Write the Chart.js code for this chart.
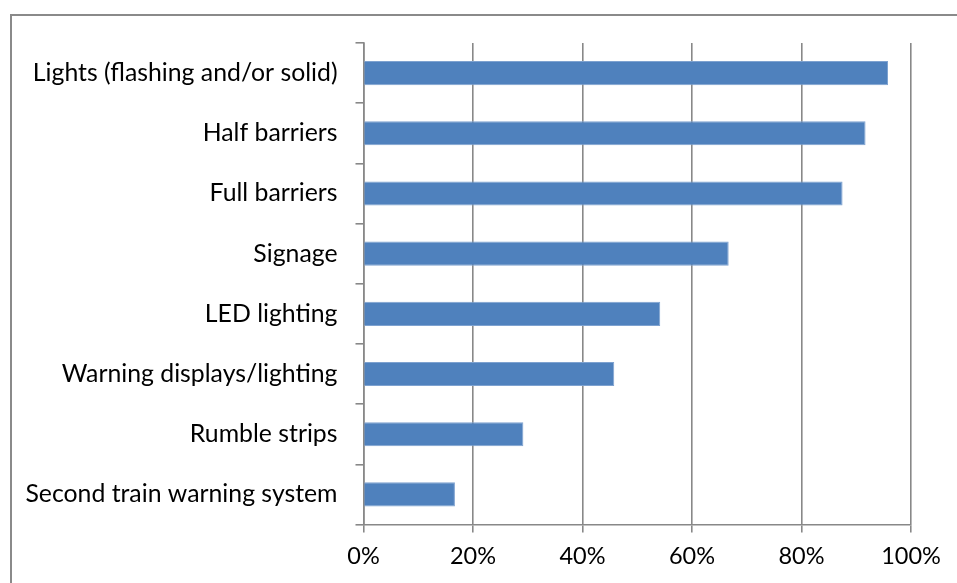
<!DOCTYPE html>
<html>
<head>
<meta charset="utf-8">
<script src="https://cdn.jsdelivr.net/npm/chart.js@4"></script>
<style>
  html, body { margin: 0; padding: 0; background: #fff; }
  #wrap { position: relative; width: 957px; height: 583px; }
  #frame {
    position: absolute; left: 10px; top: 14px; right: 0; bottom: -5px;
    border-top: 2px solid #8a8a8a; border-left: 2px solid #8a8a8a;
  }
  canvas { position: absolute; left: 0; top: 0; }
</style>
</head>
<body>
<div id="wrap">
  <div id="frame"></div>
  <canvas id="chart" width="957" height="583"></canvas>
</div>
<script>
const categories = [
  'Lights (flashing and/or solid)',
  'Half barriers',
  'Full barriers',
  'Signage',
  'LED lighting',
  'Warning displays/lighting',
  'Rumble strips',
  'Second train warning system'
];
const shares = [95.8, 91.7, 87.5, 66.7, 54.2, 45.8, 29.2, 16.7];
const tickValues = [0, 20, 40, 60, 80, 100];

const axisGray = '#888888';
const fontFamily = 'Lato, "Open Sans", sans-serif';

const ctx = document.getElementById('chart').getContext('2d');
new Chart(ctx, {
  type: 'bar',
  data: {
    labels: categories,
    datasets: [{
      data: shares,
      backgroundColor: '#4f81bd',
      borderColor: '#7ea2d0',
      borderWidth: 1,
      borderSkipped: 'left',
      categoryPercentage: 1,
      barPercentage: 0.4
    }]
  },
  options: {
    indexAxis: 'y',
    responsive: false,
    animation: false,
    layout: { padding: { top: 43, right: 46, left: 0, bottom: 0 } },
    plugins: { legend: { display: false }, tooltip: { enabled: false } },
    scales: {
      x: {
        min: 0,
        max: 100,
        afterBuildTicks: axis => { axis.ticks = tickValues.map(v => ({ value: v })); },
        afterFit: axis => { axis.height = 58.5; },
        ticks: {
          color: '#000',
          font: { family: fontFamily, size: 23.5 },
          padding: 10,
          callback: v => v + '%'
        },
        grid: { color: axisGray, lineWidth: 1.6, tickLength: 8, tickColor: axisGray },
        border: { display: true, color: axisGray, width: 1.6 }
      },
      y: {
        afterFit: axis => { axis.width = 363.5; },
        ticks: { color: '#000', font: { family: fontFamily, size: 24.8 }, padding: 18 },
        grid: {
          offset: true,
          drawOnChartArea: false,
          tickLength: 8,
          tickColor: axisGray,
          lineWidth: 1.6
        },
        border: { display: true, color: axisGray, width: 1.6 }
      }
    }
  }
});
</script>
</body>
</html>
